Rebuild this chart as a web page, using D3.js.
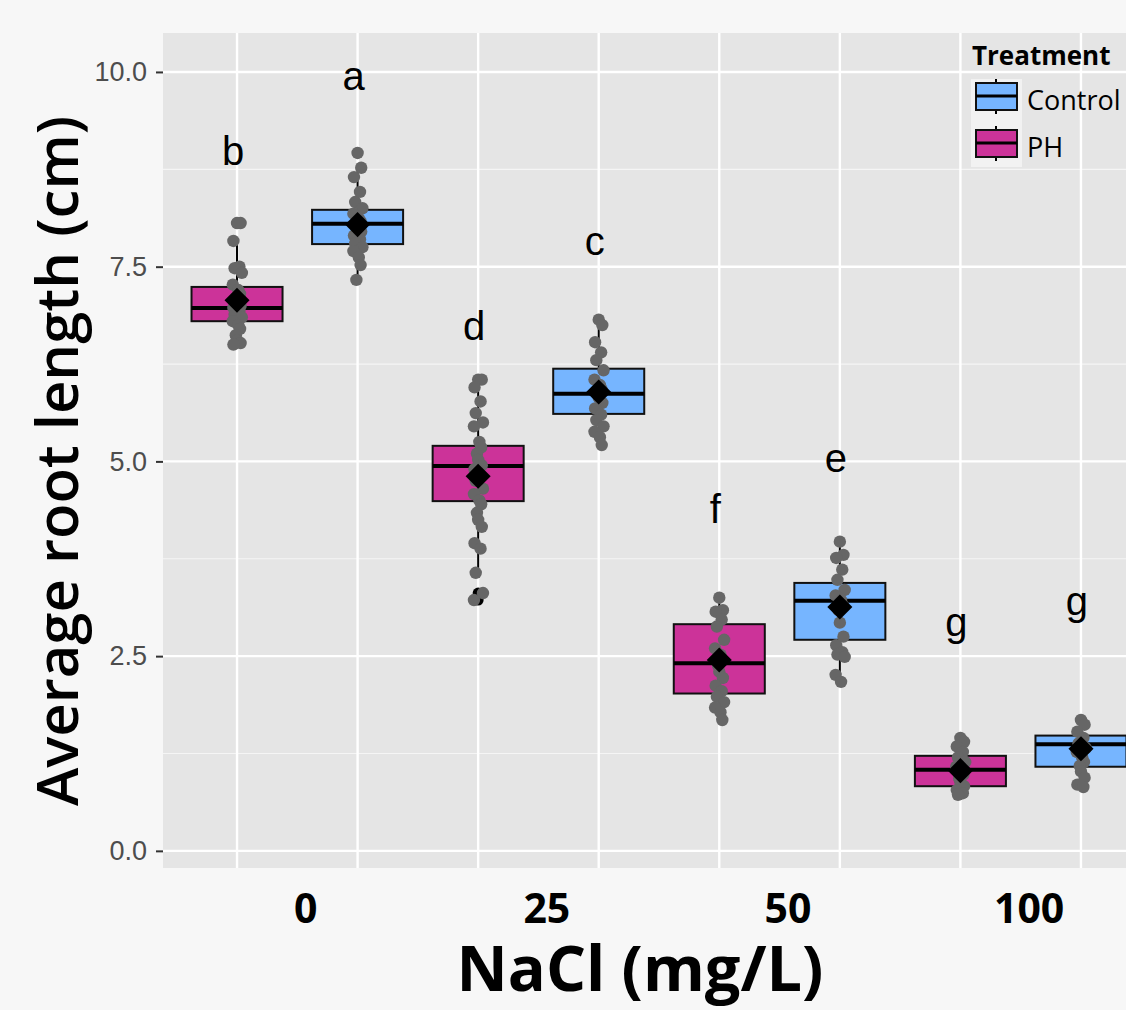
<!DOCTYPE html>
<html>
<head>
<meta charset="utf-8">
<script src="https://cdn.jsdelivr.net/npm/d3@7"></script>
<style>
  body { margin: 0; background: #f7f7f7; }
  svg { display: block; }
</style>
</head>
<body>
<div id="chart"></div>
<script>
// groups along x, each has a PH box then a Control box
const nacl = ["0", "25", "50", "100"];
const treatment = ["PH", "Control", "PH", "Control", "PH", "Control", "PH", "Control"];

// box stats, one per box, left to right
const lowWhisker = [6.50, 7.33, 3.57, 5.21, 1.68, 2.17, 0.72, 0.82];
const q1 = [6.80, 7.79, 4.49, 5.61, 2.02, 2.71, 0.83, 1.08];
const median = [6.97, 8.05, 4.94, 5.87, 2.41, 3.21, 1.04, 1.37];
const q3 = [7.24, 8.23, 5.20, 6.19, 2.91, 3.44, 1.22, 1.48];
const highWhisker = [7.83, 8.77, 6.05, 6.82, 3.25, 3.97, 1.45, 1.68];
const means = [7.07, 8.04, 4.81, 5.89, 2.45, 3.13, 1.03, 1.31];
const outliers = [[8.06], [8.96], [3.31, 3.22], [], [], [], [], []];

// significance letters and the value their baseline sits at
const letters = ["b", "a", "d", "c", "f", "e", "g", "g"];
const letterY = [8.81, 9.77, 6.56, 7.65, 4.21, 4.87, 2.76, 3.03];

// individual observations
const obs = [
  [8.06, 8.06, 7.83, 7.50, 7.48, 7.42, 7.27, 7.20, 7.15, 7.10, 7.05, 7.00, 6.97, 6.93, 6.88, 6.85, 6.80, 6.75, 6.70, 6.62, 6.55, 6.52, 6.50],
  [8.96, 8.77, 8.65, 8.46, 8.33, 8.25, 8.18, 8.12, 8.08, 8.03, 8.00, 7.95, 7.90, 7.85, 7.80, 7.75, 7.70, 7.62, 7.52, 7.33],
  [6.05, 6.05, 5.95, 5.77, 5.62, 5.50, 5.45, 5.25, 5.18, 5.10, 5.02, 4.95, 4.90, 4.82, 4.75, 4.65, 4.58, 4.50, 4.45, 4.34, 4.25, 4.16, 3.95, 3.88, 3.57, 3.31, 3.22],
  [6.82, 6.75, 6.53, 6.40, 6.30, 6.17, 6.05, 5.98, 5.92, 5.88, 5.82, 5.75, 5.68, 5.60, 5.53, 5.45, 5.38, 5.31, 5.21],
  [3.25, 3.09, 3.07, 2.97, 2.88, 2.71, 2.60, 2.52, 2.45, 2.38, 2.30, 2.22, 2.12, 2.05, 1.98, 1.91, 1.84, 1.78, 1.68],
  [3.97, 3.80, 3.76, 3.61, 3.48, 3.35, 3.28, 3.22, 3.15, 3.09, 2.93, 2.75, 2.64, 2.55, 2.52, 2.49, 2.26, 2.17],
  [1.45, 1.40, 1.34, 1.27, 1.20, 1.14, 1.08, 1.03, 0.98, 0.93, 0.88, 0.83, 0.78, 0.74, 0.72],
  [1.68, 1.62, 1.53, 1.45, 1.38, 1.32, 1.27, 1.20, 1.14, 1.09, 1.02, 0.94, 0.85, 0.82]
];

const yTicks = [0, 2.5, 5, 7.5, 10];
const yMinor = [1.25, 3.75, 6.25, 8.75];

const colors = { Control: "#76b5ff", PH: "#cc3399" };

const W = 1126, H = 1010;
const panel = { left: 163, top: 33, bottom: 868 };

const svg = d3.select("#chart").append("svg")
    .attr("width", W)
    .attr("height", H);

svg.append("rect").attr("width", W).attr("height", H).attr("fill", "#f7f7f7");

// scales
const x = d3.scaleLinear().domain([0.386, 8.614]).range([panel.left, 1155]);
const y = d3.scaleLinear().domain([-0.22, 10.5]).range([panel.bottom, panel.top]);
const step = x(2) - x(1);
const boxW = 0.755 * step;

svg.append("rect")
    .attr("x", panel.left).attr("y", panel.top)
    .attr("width", x(8.614) - panel.left).attr("height", panel.bottom - panel.top)
    .attr("fill", "#e5e5e5");

// grid
const grid = svg.append("g");
grid.selectAll(".minor").data(yMinor).enter().append("line")
    .attr("x1", panel.left).attr("x2", W)
    .attr("y1", d => y(d)).attr("y2", d => y(d))
    .attr("stroke", "#f5f5f5").attr("stroke-width", 1.2);
grid.selectAll(".major").data(yTicks).enter().append("line")
    .attr("x1", panel.left).attr("x2", W)
    .attr("y1", d => y(d)).attr("y2", d => y(d))
    .attr("stroke", "#ffffff").attr("stroke-width", 2.4);
grid.selectAll(".vert").data(d3.range(1, 9)).enter().append("line")
    .attr("x1", d => x(d)).attr("x2", d => x(d))
    .attr("y1", panel.top).attr("y2", panel.bottom)
    .attr("stroke", "#ffffff").attr("stroke-width", 2.4);

// y axis
const yAxis = svg.append("g")
    .attr("transform", `translate(${panel.left},0)`)
    .call(d3.axisLeft(y).tickValues(yTicks).tickFormat(d3.format(".1f")).tickSize(7).tickPadding(9));
yAxis.select(".domain").remove();
yAxis.selectAll(".tick line").attr("stroke", "#333").attr("stroke-width", 2);
yAxis.selectAll(".tick text")
    .attr("fill", "#4d4d4d")
    .style("font-family", "'Liberation Sans', Arial, sans-serif")
    .style("font-size", "27px");

// x labels sit a little right of each group's middle
svg.selectAll(".xlab").data(nacl).enter().append("text")
    .attr("x", (d, i) => x(2 * i + 1.57))
    .attr("y", 923)
    .attr("text-anchor", "middle")
    .style("font-family", "'Open Sans', 'Noto Sans', sans-serif")
    .style("font-weight", "700")
    .style("font-size", "41px")
    .attr("fill", "#000")
    .text(d => d);

svg.append("text")
    .attr("x", 640).attr("y", 991)
    .attr("text-anchor", "middle")
    .style("font-family", "'Open Sans', 'Noto Sans', sans-serif")
    .style("font-weight", "700")
    .style("font-size", "63px")
    .text("NaCl (mg/L)");

svg.append("text")
    .attr("transform", "translate(78,461) rotate(-90)")
    .attr("text-anchor", "middle")
    .style("font-family", "'Open Sans', 'Noto Sans', sans-serif")
    .style("font-weight", "600")
    .style("font-size", "58px")
    .text("Average root length (cm)");

// boxes
const boxes = svg.selectAll(".box").data(d3.range(8)).enter().append("g");
boxes.append("line")
    .attr("x1", i => x(i + 1)).attr("x2", i => x(i + 1))
    .attr("y1", i => y(highWhisker[i])).attr("y2", i => y(q3[i]))
    .attr("stroke", "#000").attr("stroke-width", 2);
boxes.append("line")
    .attr("x1", i => x(i + 1)).attr("x2", i => x(i + 1))
    .attr("y1", i => y(q1[i])).attr("y2", i => y(lowWhisker[i]))
    .attr("stroke", "#000").attr("stroke-width", 2);
boxes.append("rect")
    .attr("x", i => x(i + 1) - boxW / 2)
    .attr("width", boxW)
    .attr("y", i => y(q3[i]))
    .attr("height", i => y(q1[i]) - y(q3[i]))
    .attr("fill", i => colors[treatment[i]])
    .attr("stroke", "#111").attr("stroke-width", 2);
boxes.append("line")
    .attr("x1", i => x(i + 1) - boxW / 2).attr("x2", i => x(i + 1) + boxW / 2)
    .attr("y1", i => y(median[i])).attr("y2", i => y(median[i]))
    .attr("stroke", "#000").attr("stroke-width", 4);

// outliers from the boxplot layer, then jittered observations
const outPts = [];
outliers.forEach((arr, i) => arr.forEach(v => outPts.push({ i, v })));
svg.selectAll(".out").data(outPts).enter().append("circle")
    .attr("cx", d => x(d.i + 1)).attr("cy", d => y(d.v))
    .attr("r", 5.5).attr("fill", "#000");

const jitter = [0.0, 0.03, -0.03, 0.02, -0.02, 0.04, -0.035, 0.01, 0.025, -0.01];
const pts = [];
obs.forEach((arr, i) => arr.forEach((v, k) => pts.push({ i, v, k })));
svg.selectAll(".pt").data(pts).enter().append("circle")
    .attr("cx", d => x(d.i + 1 + jitter[d.k % jitter.length]))
    .attr("cy", d => y(d.v))
    .attr("r", 6.2)
    .attr("fill", "#666666");

// means
svg.selectAll(".mean").data(d3.range(8)).enter().append("path")
    .attr("d", d3.symbol().type(d3.symbolDiamond2).size(400))
    .attr("transform", i => `translate(${x(i + 1)},${y(means[i])})`)
    .attr("fill", "#000");

// letters
svg.selectAll(".letter").data(d3.range(8)).enter().append("text")
    .attr("x", i => x(i + 1) - 4)
    .attr("y", i => y(letterY[i]))
    .attr("text-anchor", "middle")
    .style("font-family", "'Liberation Sans', Arial, sans-serif")
    .style("font-size", "40px")
    .attr("fill", "#000")
    .text(i => letters[i]);

// legend
const legend = svg.append("g");
legend.append("text")
    .attr("x", 972).attr("y", 65)
    .style("font-family", "'Open Sans', 'Noto Sans', sans-serif")
    .style("font-weight", "700")
    .style("font-size", "26px")
    .text("Treatment");

legend.append("rect")
    .attr("x", 971).attr("y", 79).attr("width", 51).attr("height", 88)
    .attr("fill", "#f2f2f2");

const keys = ["Control", "PH"];
keys.forEach((k, j) => {
    const top = 79 + j * 47;
    legend.append("line")
        .attr("x1", 996).attr("x2", 996).attr("y1", top).attr("y2", top + 35)
        .attr("stroke", "#000").attr("stroke-width", 2);
    legend.append("rect")
        .attr("x", 976).attr("y", top + 4).attr("width", 41).attr("height", 27)
        .attr("fill", colors[k]).attr("stroke", "#111").attr("stroke-width", 2);
    legend.append("line")
        .attr("x1", 976).attr("x2", 1017).attr("y1", top + 17).attr("y2", top + 17)
        .attr("stroke", "#000").attr("stroke-width", 3);
    legend.append("text")
        .attr("x", 1027).attr("y", top + 31)
        .style("font-family", "'Open Sans', 'Noto Sans', sans-serif")
        .style("font-size", "27px")
        .text(k);
});
</script>
</body>
</html>
